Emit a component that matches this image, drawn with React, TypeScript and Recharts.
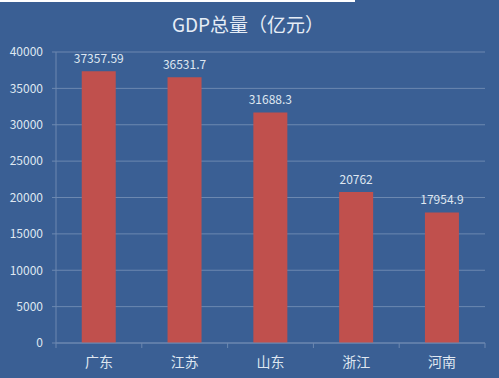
import React from "react";
import { BarChart, Bar, XAxis, YAxis, CartesianGrid, LabelList } from "recharts";

const provinces = ["广东", "江苏", "山东", "浙江", "河南"];
const gdp = [37357.59, 36531.7, 31688.3, 20762, 17954.9];
const gdpLabels = ["37357.59", "36531.7", "31688.3", "20762", "17954.9"];
const yTicks = [0, 5000, 10000, 15000, 20000, 25000, 30000, 35000, 40000];

const data = provinces.map((p, i) => ({ name: p, value: gdp[i], label: gdpLabels[i] }));

const FONT = '"Noto Sans CJK SC", "Noto Sans", sans-serif';
const TEXT = "#dfe7f1";
const GRID = "#6c88b0";

const XTick = (props: any) => {
  const { x, y, payload, index } = props;
  const off = payload.offset || 0;
  return (
    <g>
      <line x1={x - off} x2={x - off} y1={y - 8} y2={y - 3} stroke={GRID} />
      {index === provinces.length - 1 && (
        <line x1={x + off} x2={x + off} y1={y - 8} y2={y - 3} stroke={GRID} />
      )}
      <text x={x} y={y + 16} textAnchor="middle" fill={TEXT} fontSize={14} fontFamily={FONT}>
        {payload.value}
      </text>
    </g>
  );
};

export default function App() {
  return (
    <div style={{ position: "fixed", left: 0, top: 0, width: 499, height: 378, background: "#3A5F94" }}>
      <div style={{ position: "absolute", left: 0, top: 0, width: 355, height: 2, background: "#ffffff" }} />
      <div
        style={{
          position: "absolute",
          left: 0,
          top: 10,
          width: 496,
          textAlign: "center",
          color: "#e6edf6",
          fontFamily: FONT,
          fontSize: 19,
          lineHeight: "28px",
        }}
      >
        GDP总量（亿元）
      </div>
      <div style={{ position: "absolute", left: 0, top: 0 }}>
        <BarChart
          width={499}
          height={378}
          data={data}
          margin={{ top: 52, right: 14, bottom: 0, left: 0 }}
          barCategoryGap="30%"
        >
          <CartesianGrid vertical={false} stroke={GRID} strokeWidth={1} />
          <XAxis
            dataKey="name"
            stroke={GRID}
            tickLine={false}
            tick={<XTick />}
            height={35}
            interval={0}
          />
          <YAxis
            domain={[0, 40000]}
            ticks={yTicks}
            width={56}
            stroke={GRID}
            tickSize={4}
            tickMargin={9}
            tick={{ fill: TEXT, fontSize: 12, fontFamily: FONT }}
            interval={0}
          />
          <Bar dataKey="value" fill="#C0504D" isAnimationActive={false}>
            <LabelList
              dataKey="label"
              position="top"
              offset={8}
              fill={TEXT}
              fontSize={12}
              fontFamily={FONT}
            />
          </Bar>
        </BarChart>
      </div>
    </div>
  );
}
